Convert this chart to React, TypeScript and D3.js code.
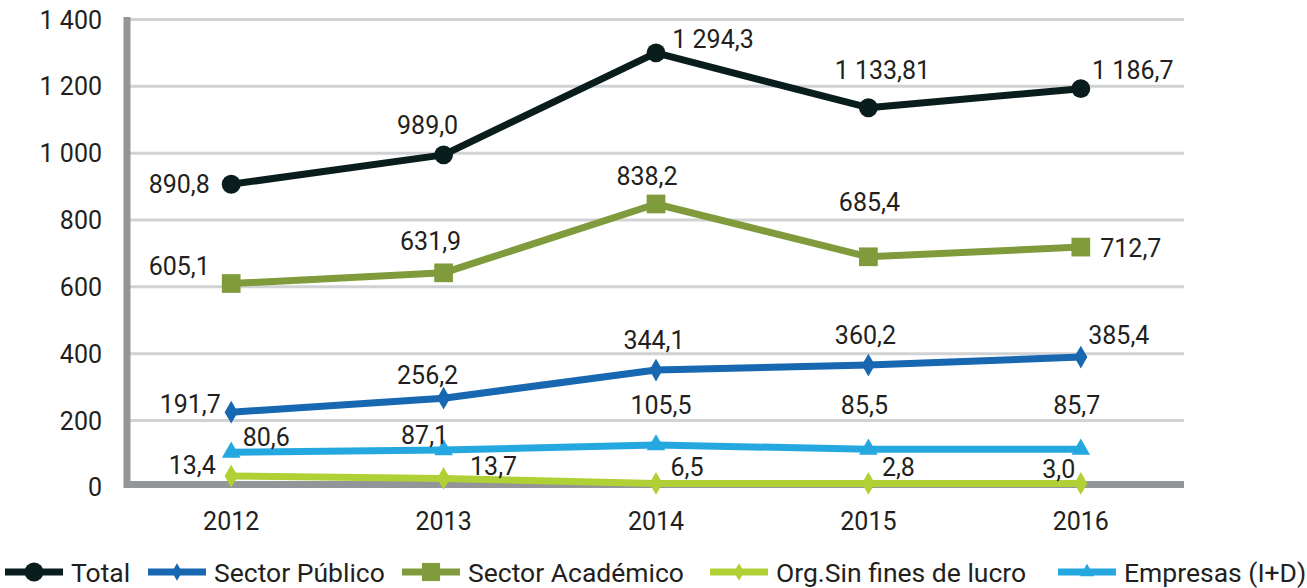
import { useMemo } from "react";
import * as d3 from "d3";

const years = ["2012", "2013", "2014", "2015", "2016"];

// plotted values
const total = [907, 995, 1300, 1136, 1193];
const publico = [225, 267, 351, 366, 390];
const academico = [610, 642, 848, 690, 719];
const sinFines = [34, 27, 12, 12, 12];
const empresas = [105, 112, 127, 114, 114];

// data labels as printed on the chart
const totalLabels = ["890,8", "989,0", "1 294,3", "1 133,81", "1 186,7"];
const publicoLabels = ["191,7", "256,2", "344,1", "360,2", "385,4"];
const academicoLabels = ["605,1", "631,9", "838,2", "685,4", "712,7"];
const sinFinesLabels = ["13,4", "13,7", "6,5", "2,8", "3,0"];
const empresasLabels = ["80,6", "87,1", "105,5", "85,5", "85,7"];

const yTicks = [0, 200, 400, 600, 800, 1000, 1200, 1400];
const yTickLabels = ["0", "200", "400", "600", "800", "1 000", "1 200", "1 400"];

const W = 1307;
const H = 588;
const TEXT = "#231f20";
const FONT = "Roboto, 'Noto Sans', sans-serif";

type Series = {
  name: string;
  values: number[];
  labels: string[];
  color: string;
  symbol: d3.SymbolType;
  size: number;
  legendSize: number;
  offsets: [number, number][];
};

const series: Series[] = [
  {
    name: "Org.Sin fines de lucro",
    values: sinFines,
    labels: sinFinesLabels,
    color: "#b0d136",
    symbol: d3.symbolDiamond,
    size: 150,
    legendSize: 90,
    offsets: [[-39, -11], [50, -12], [31, -16], [30, -16], [-22, -14]],
  },
  {
    name: "Empresas (I+D)",
    values: empresas,
    labels: empresasLabels,
    color: "#25a8e0",
    symbol: d3.symbolTriangle,
    size: 150,
    legendSize: 90,
    offsets: [[35, -15], [-19, -15], [5, -40], [-4, -44], [-4, -44]],
  },
  {
    name: "Sector Público",
    values: publico,
    labels: publicoLabels,
    color: "#1767b1",
    symbol: d3.symbolDiamond,
    size: 150,
    legendSize: 90,
    offsets: [[-41, -8], [-16, -23], [-2, -30], [-3, -30], [38, -22]],
  },
  {
    name: "Sector Académico",
    values: academico,
    labels: academicoLabels,
    color: "#809b3b",
    symbol: d3.symbolSquare,
    size: 350,
    legendSize: 330,
    offsets: [[-52, -18], [-13, -32], [-9, -28], [1, -55], [50, 1]],
  },
  {
    name: "Total",
    values: total,
    labels: totalLabels,
    color: "#0a1d1d",
    symbol: d3.symbolCircle,
    size: 280,
    legendSize: 280,
    offsets: [[-52, 0], [-16, -30], [57, -14], [14, -38], [52, -19]],
  },
];

const legendOrder = ["Total", "Sector Público", "Sector Académico", "Org.Sin fines de lucro", "Empresas (I+D)"];
const legendX = [5, 148, 402, 710, 1058];

export default function App() {
  const x = useMemo(
    () => d3.scalePoint<string>().domain(years).range([125, 1187]).padding(0.5),
    []
  );
  const y = useMemo(() => d3.scaleLinear().domain([0, 1400]).range([487.4, 19.5]), []);

  const line = (vals: number[]) =>
    d3
      .line<number>()
      .x((_, i) => x(years[i]) as number)
      .y((d) => y(d))(vals) as string;

  return (
    <svg
      width={W}
      height={H}
      style={{ position: "absolute", left: 0, top: 0, background: "#fff" }}
      fontFamily={FONT}
    >
      {/* grid */}
      {yTicks.slice(1).map((t) => (
        <line key={t} x1={130} x2={1184} y1={y(t)} y2={y(t)} stroke="#d1d2d4" strokeWidth={3} />
      ))}
      {/* axes */}
      <line x1={127} x2={127} y1={17} y2={488} stroke="#939598" strokeWidth={7} />
      <line x1={124} x2={1184} y1={484.5} y2={484.5} stroke="#939598" strokeWidth={7} />

      {yTicks.map((t, i) => (
        <text key={t} x={102} y={y(t)} dy="0.36em" textAnchor="end" fontSize={25} fill={TEXT}>
          {yTickLabels[i]}
        </text>
      ))}
      {years.map((yr) => (
        <text key={yr} x={x(yr)} y={521} dy="0.36em" textAnchor="middle" fontSize={25} fill={TEXT}>
          {yr}
        </text>
      ))}

      {series.map((s) => (
        <g key={s.name}>
          <path d={line(s.values)} fill="none" stroke={s.color} strokeWidth={7} strokeLinejoin="round" />
          {s.values.map((v, i) => (
            <path
              key={i}
              d={d3.symbol().type(s.symbol).size(s.size)() as string}
              transform={`translate(${x(years[i])},${y(v)})`}
              fill={s.color}
            />
          ))}
        </g>
      ))}

      {series.map((s) =>
        s.values.map((v, i) => (
          <text
            key={s.name + i}
            x={(x(years[i]) as number) + s.offsets[i][0]}
            y={y(v) + s.offsets[i][1]}
            dy="0.36em"
            textAnchor="middle"
            fontSize={25}
            fill={TEXT}
          >
            {s.labels[i]}
          </text>
        ))
      )}

      {/* legend */}
      {legendOrder.map((name, i) => {
        const s = series.find((d) => d.name === name)!;
        const lx = legendX[i];
        const ly = 572;
        return (
          <g key={name}>
            <line x1={lx} x2={lx + 58} y1={ly} y2={ly} stroke={s.color} strokeWidth={7} />
            <path
              d={d3.symbol().type(s.symbol).size(s.legendSize)() as string}
              transform={`translate(${lx + 29},${ly})`}
              fill={s.color}
            />
            <text x={lx + 66} y={ly} dy="0.36em" fontSize={26.5} fill={TEXT}>
              {name}
            </text>
          </g>
        );
      })}
    </svg>
  );
}
